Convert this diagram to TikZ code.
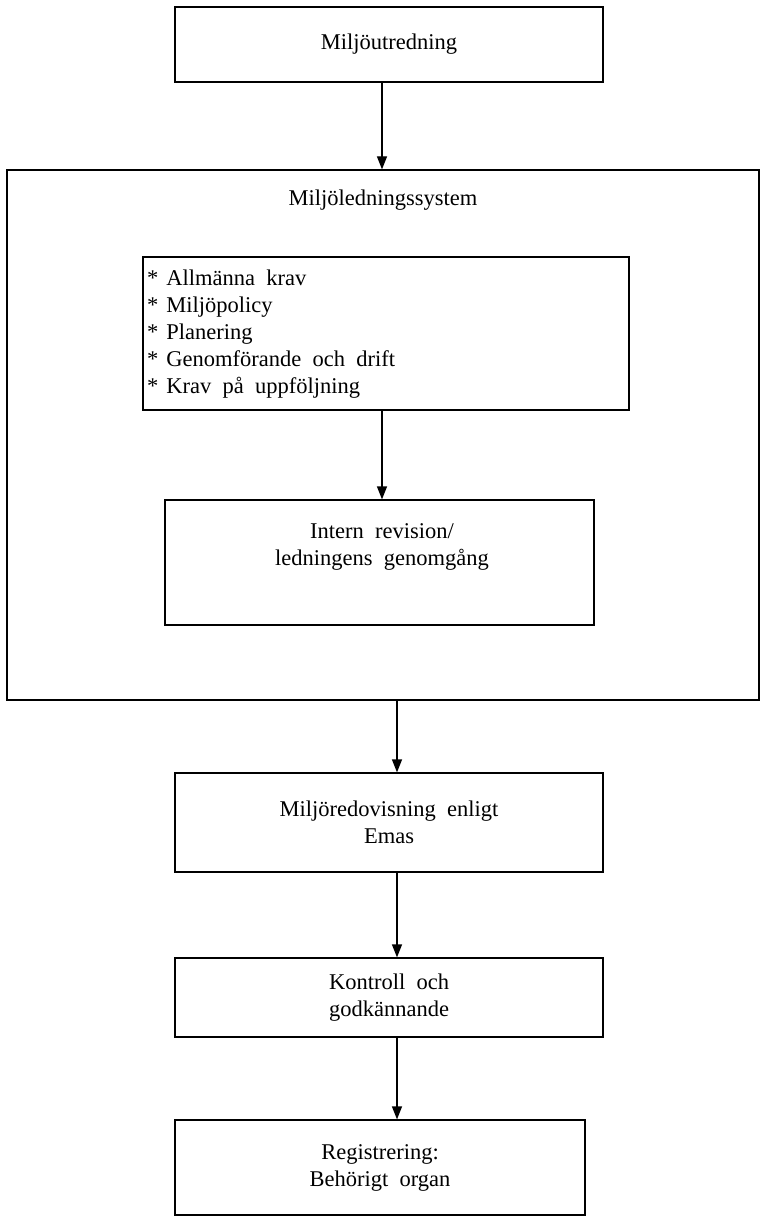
\documentclass[tikz,border=0pt]{standalone}
\usepackage{fontspec}
\setmainfont{Liberation Serif}
\usetikzlibrary{arrows.meta,calc}
\newcommand{\reffont}{\fontsize{22.5}{27}\selectfont\spaceskip=0.5em plus 0.1em}
\begin{document}
\begin{tikzpicture}[x=1pt,y=-1pt,
  box/.style={draw,line width=1.2pt,inner sep=0pt,align=center,font=\reffont},
  lbl/.style={inner sep=0pt,align=center,font=\reffont},
  arr/.style={line width=1.2pt,-{Triangle[width=10pt,length=13pt]}}]
\useasboundingbox (0,0) rectangle (772,1225);
\node[box,minimum width=428pt,minimum height=75pt] (m1) at (389,44.5) {Miljöutredning};
\node[box,minimum width=752pt,minimum height=530pt] (big) at (383,435) {};
\node[lbl] (bigt) at (383,200) {Miljöledningssystem};
\node[box,minimum width=486pt,minimum height=153pt] (list) at (386,333.5) {};
\node[lbl,anchor=west] (listt) at (147,334) {\begin{tabular}{@{}l@{\hspace{8pt}}l@{}}
{*}&Allmänna krav\\ {*}&Miljöpolicy\\ {*}&Planering\\ {*}&Genomförande och drift\\ {*}&Krav på uppföljning\end{tabular}};
\node[box,minimum width=429pt,minimum height=125pt] (rev) at (379.5,562.5) {};
\node[lbl] (revt) at (382,546.5) {Intern revision/\\ledningens genomgång};
\node[box,minimum width=428pt,minimum height=99pt] (red) at (389,822.5) {Miljöredovisning enligt\\Emas};
\node[box,minimum width=428pt,minimum height=79pt] (kon) at (389,997.5) {Kontroll och\\godkännande};
\node[box,minimum width=410pt,minimum height=95pt] (reg) at (380,1167.5) {Registrering:\\Behörigt organ};
\draw[arr] ([xshift=-7pt]m1.south) -- ([xshift=-7pt]m1.south |- big.north);
\draw[arr] ([xshift=-4pt]list.south) -- ([xshift=-4pt]list.south |- rev.north);
\draw[arr] ([xshift=14pt]big.south) -- ([xshift=14pt]big.south |- red.north);
\draw[arr] ([xshift=8pt]red.south) -- ([xshift=8pt]red.south |- kon.north);
\draw[arr] ([xshift=8pt]kon.south) -- ([xshift=8pt]kon.south |- reg.north);
\end{tikzpicture}
\end{document}
